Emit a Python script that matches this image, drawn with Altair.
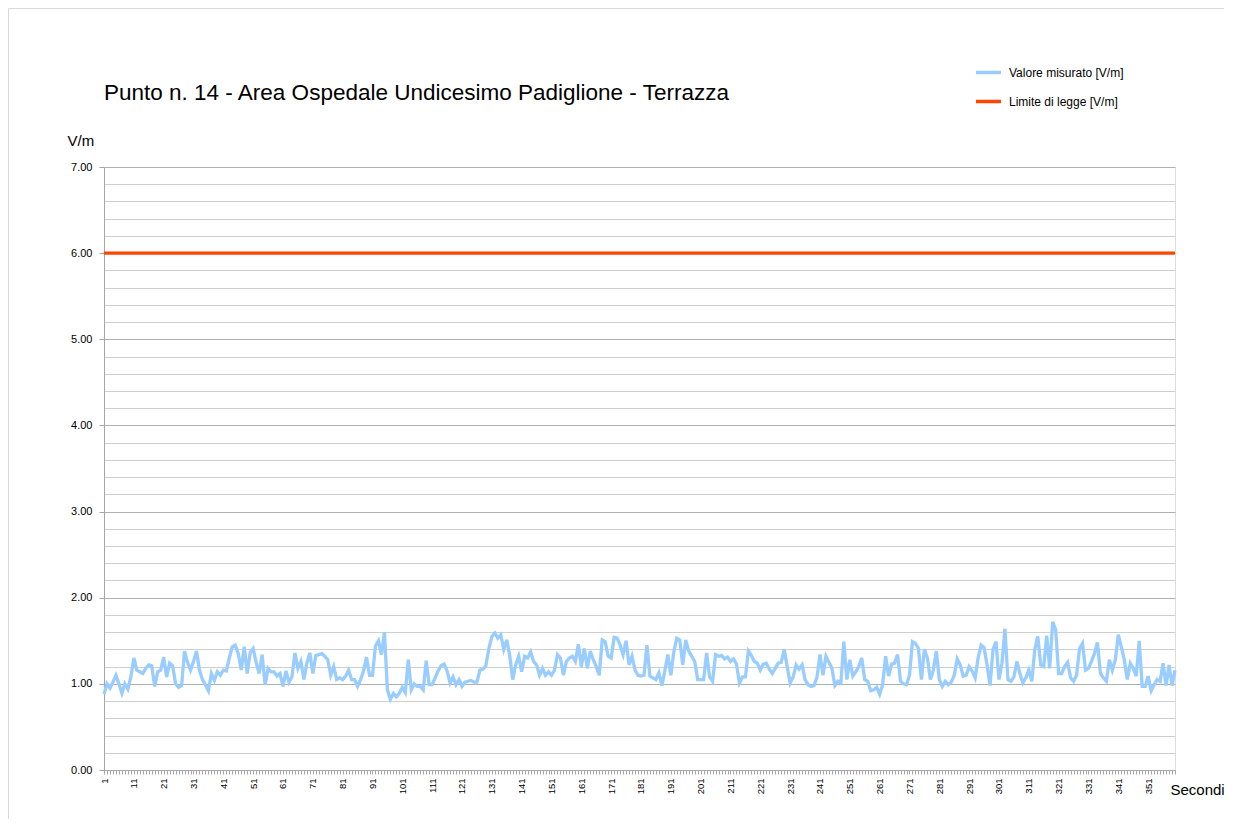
import altair as alt
import pandas as pd

TITLE = "Punto n. 14 - Area Ospedale Undicesimo Padiglione - Terrazza"
SERIES_MEAS = "Valore misurato [V/m]"
SERIES_LIM = "Limite di legge [V/m]"

seconds = list(range(1, 361))

valore = [
    0.88, 1.00, 0.95, 1.02, 1.10, 1.00, 0.89, 1.00, 0.94, 1.08,
    1.30, 1.16, 1.14, 1.12, 1.18, 1.22, 1.21, 0.97, 1.14, 1.16,
    1.31, 1.08, 1.24, 1.21, 1.00, 0.96, 0.98, 1.38, 1.25, 1.16,
    1.26, 1.38, 1.16, 1.05, 0.99, 0.92, 1.12, 1.04, 1.14, 1.10,
    1.16, 1.15, 1.30, 1.43, 1.45, 1.35, 1.16, 1.43, 1.12, 1.36,
    1.41, 1.25, 1.12, 1.34, 0.99, 1.18, 1.14, 1.14, 1.09, 1.12,
    0.97, 1.15, 1.02, 1.08, 1.36, 1.18, 1.26, 1.05, 1.24, 1.36,
    1.12, 1.33, 1.34, 1.35, 1.32, 1.28, 1.10, 1.20, 1.05, 1.07,
    1.05, 1.09, 1.16, 1.05, 1.05, 0.97, 1.05, 1.15, 1.31, 1.10,
    1.10, 1.44, 1.50, 1.34, 1.60, 0.93, 0.82, 0.89, 0.85, 0.89,
    0.96, 0.90, 1.28, 0.93, 1.00, 0.97, 0.97, 0.93, 1.27, 0.99,
    0.99, 1.07, 1.15, 1.21, 1.23, 1.15, 1.01, 1.08, 0.99, 1.05,
    0.97, 1.02, 1.03, 1.04, 1.02, 1.02, 1.16, 1.17, 1.21, 1.41,
    1.55, 1.59, 1.53, 1.57, 1.40, 1.51, 1.33, 1.05, 1.22, 1.32,
    1.14, 1.32, 1.30, 1.37, 1.26, 1.22, 1.10, 1.18, 1.10, 1.14,
    1.10, 1.16, 1.34, 1.30, 1.10, 1.26, 1.30, 1.32, 1.26, 1.46,
    1.20, 1.41, 1.18, 1.38, 1.28, 1.20, 1.10, 1.51, 1.49, 1.32,
    1.30, 1.54, 1.53, 1.45, 1.34, 1.50, 1.22, 1.32, 1.16, 1.10,
    1.09, 1.10, 1.45, 1.09, 1.07, 1.05, 1.13, 0.98, 1.15, 1.34,
    1.10, 1.37, 1.53, 1.51, 1.22, 1.51, 1.38, 1.32, 1.26, 1.05,
    1.05, 1.05, 1.36, 1.08, 1.03, 1.34, 1.32, 1.33, 1.29, 1.31,
    1.26, 1.29, 1.23, 1.01, 1.08, 1.08, 1.38, 1.33, 1.26, 1.24,
    1.16, 1.23, 1.24, 1.17, 1.12, 1.18, 1.24, 1.25, 1.40, 1.20,
    1.01, 1.08, 1.22, 1.17, 1.22, 1.05, 0.99, 0.97, 0.98, 1.08,
    1.34, 1.10, 1.32, 1.25, 1.18, 0.98, 1.03, 1.01, 1.49, 1.05,
    1.28, 1.09, 1.14, 1.20, 1.30, 1.05, 1.03, 0.92, 0.93, 0.96,
    0.88, 0.99, 1.32, 1.09, 1.23, 1.24, 1.34, 1.03, 1.00, 0.99,
    1.10, 1.49, 1.47, 1.41, 1.05, 1.40, 1.30, 1.05, 1.16, 1.38,
    1.05, 0.97, 1.03, 0.99, 1.02, 1.10, 1.29, 1.22, 1.09, 1.10,
    1.20, 1.15, 1.07, 1.30, 1.45, 1.42, 1.22, 0.98, 1.40, 1.49,
    1.05, 1.24, 1.64, 1.05, 1.03, 1.08, 1.26, 1.12, 1.01, 1.07,
    1.16, 1.03, 1.40, 1.55, 1.22, 1.20, 1.56, 1.18, 1.72, 1.63,
    1.12, 1.12, 1.20, 1.25, 1.07, 1.03, 1.10, 1.41, 1.47, 1.16,
    1.18, 1.26, 1.35, 1.48, 1.12, 1.07, 1.03, 1.28, 1.16, 1.28,
    1.57, 1.43, 1.28, 1.05, 1.24, 1.18, 1.09, 1.50, 0.97, 0.97,
    1.09, 0.92, 0.99, 1.05, 1.03, 1.24, 0.98, 1.22, 0.98, 1.16,
]

limite_value = 6.00

y_ticks = [0.0, 0.2, 0.4, 0.6, 0.8, 1.0, 1.2, 1.4, 1.6, 1.8,
           2.0, 2.2, 2.4, 2.6, 2.8, 3.0, 3.2, 3.4, 3.6, 3.8,
           4.0, 4.2, 4.4, 4.6, 4.8, 5.0, 5.2, 5.4, 5.6, 5.8,
           6.0, 6.2, 6.4, 6.6, 6.8, 7.0]

df = pd.DataFrame({
    "Secondo": seconds + seconds,
    "Valore": valore + [limite_value] * len(seconds),
    "Serie": [SERIES_MEAS] * len(seconds) + [SERIES_LIM] * len(seconds),
})

W, H = 1071, 603
PAD = {"left": 96, "top": 159, "right": 50, "bottom": 50}
FONT = "Liberation Sans"
is_int = "abs(datum.value - round(datum.value)) < 0.001"

x_enc = alt.X(
    "Secondo:Q",
    scale=alt.Scale(domain=[1, 360], nice=False, zero=False),
    axis=alt.Axis(
        values=seconds,
        labelExpr="(datum.value - 1) % 10 == 0 ? '' + datum.value : ''",
        labelAngle=270,
        labelOverlap=False,
        labelFlush=False,
        labelFontSize=9.5,
        labelFont=FONT,
        labelColor="#000000",
        labelPadding=4,
        tickSize=4,
        tickColor="#a6a6a6",
        domainColor="#a6a6a6",
        grid=False,
        title="Secondi",
        titleX=1066,
        titleY=19,
        titleAlign="left",
        titleBaseline="middle",
        titleFont=FONT,
        titleFontSize=15,
        titleFontWeight="normal",
        titleColor="#000000",
    ),
)

y_enc = alt.Y(
    "Valore:Q",
    scale=alt.Scale(domain=[0, 7], nice=False, zero=True),
    axis=alt.Axis(
        values=y_ticks,
        labelExpr=is_int + " ? format(datum.value, '.2f') : ''",
        labelOverlap=False,
        labelFontSize=11,
        labelFont=FONT,
        labelColor="#000000",
        labelPadding=7,
        tickSize=5,
        tickColor="#a6a6a6",
        tickOpacity={"condition": {"test": is_int, "value": 1}, "value": 0},
        domainColor="#a6a6a6",
        grid=True,
        gridColor={"condition": {"test": is_int, "value": "#b0b0b0"}, "value": "#cfcfcf"},
        gridWidth=1,
        title="V/m",
        titleAngle=0,
        titleX=-37,
        titleY=-27,
        titleAlign="left",
        titleBaseline="middle",
        titleFont=FONT,
        titleFontSize=15,
        titleFontWeight="normal",
        titleColor="#000000",
    ),
)

lines = alt.Chart(df).mark_line(strokeWidth=3.3).encode(
    x=x_enc,
    y=y_enc,
    color=alt.Color(
        "Serie:N",
        scale=alt.Scale(domain=[SERIES_MEAS, SERIES_LIM], range=["#99CCFF", "#FF4500"]),
        legend=alt.Legend(
            title=None,
            orient="none",
            legendX=870,
            legendY=-109,
            symbolType="stroke",
            symbolSize=625,
            symbolStrokeWidth=3.5,
            labelFont=FONT,
            labelFontSize=12,
            labelColor="#000000",
            labelOffset=6,
            rowPadding=7,
            padding=0,
        ),
    ),
    detail="Serie:N",
)

one = pd.DataFrame({"b": [0]})

border_top = alt.Chart(one).mark_rule(stroke="#d9d9d9", strokeWidth=1).encode(
    x=alt.value(-95.5), x2=alt.value(W + 49), y=alt.value(-158.5),
)
border_left = alt.Chart(one).mark_rule(stroke="#d9d9d9", strokeWidth=1).encode(
    x=alt.value(-95.5), y=alt.value(-158.5), y2=alt.value(H + 49),
)

title_text = alt.Chart(pd.DataFrame({"t": [TITLE]})).mark_text(
    align="left", baseline="middle", font=FONT, fontSize=22.5, color="#000000"
).encode(
    text="t:N", x=alt.value(0), y=alt.value(-74),
)

chart = alt.layer(border_top, border_left, title_text, lines).properties(
    width=W,
    height=H,
    padding=PAD,
    autosize=alt.AutoSizeParams(type="none"),
).configure_view(stroke="transparent").configure(background="white")

chart.save("out.html", embed_options={"renderer": "svg", "actions": False})
